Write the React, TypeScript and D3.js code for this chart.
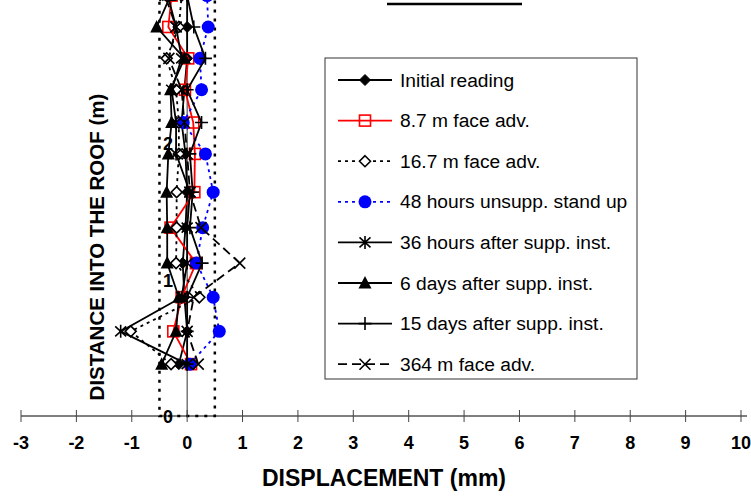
import React from "react";
import * as d3 from "d3";

// Extensometer readings: roof displacement (mm) at each anchor depth (m)
const depths = [0.38, 0.62, 0.87, 1.12, 1.38, 1.64, 1.92, 2.15, 2.39, 2.62, 2.85, 3.08];

const initialReading = [-0.15, 0.0, -0.05, -0.08, -0.03, 0.0, -0.03, -0.1, -0.05, 0.0, 0.0, 0.0];
const faceAdv87 = [0.07, -0.25, -0.1, 0.16, -0.3, 0.13, 0.14, 0.11, -0.04, 0.02, -0.34, -0.28];
const faceAdv167 = [-0.29, -1.02, 0.22, -0.2, -0.19, -0.19, -0.15, -0.15, -0.2, -0.37, -0.15, -0.1];
const hours48 = [0.05, 0.58, 0.47, 0.17, 0.28, 0.47, 0.33, -0.07, 0.26, 0.23, 0.38, 0.36];
const hours36 = [0.0, -1.2, -0.1, 0.0, 0.0, 0.05, -0.2, -0.2, -0.28, -0.1, -0.2, -0.35];
const days6 = [-0.46, -0.2, -0.15, -0.36, -0.36, -0.37, -0.34, -0.28, -0.3, -0.05, -0.55, -0.3];
const days15 = [0.0, 0.0, 0.0, 0.27, 0.05, 0.1, 0.05, 0.26, 0.0, 0.33, 0.12, 0.0];
const faceAdv364 = [0.2, 0.0, 0.12, 0.95, 0.25, 0.05, 0.0, -0.05, -0.1, -0.33, -0.2, -0.4];

// +/-0.5 mm tolerance band
const bandX = [-0.5, -0.5, 0.5, 0.5];
const bandY = [3.1, 0, 0, 3.1];

const xTicks = [-3, -2, -1, 0, 1, 2, 3, 4, 5, 6, 7, 8, 9, 10];
const yTicks = [0, 1, 2];

const seriesNames = [
  "Initial reading",
  "8.7 m face adv.",
  "16.7 m face adv.",
  "48 hours unsupp. stand up",
  "36 hours after supp. inst.",
  "6 days after supp. inst.",
  "15 days after supp. inst.",
  "364 m face adv.",
];
const seriesValues = [initialReading, faceAdv87, faceAdv167, hours48, hours36, days6, days15, faceAdv364];

type Style = { color: string; dash?: string; marker: string };
const styles: Style[] = [
  { color: "#000", marker: "diamond" },
  { color: "#ff0000", marker: "square" },
  { color: "#000", dash: "3,4", marker: "openDiamond" },
  { color: "#0000ff", dash: "3,4", marker: "circle" },
  { color: "#000", marker: "star" },
  { color: "#000", marker: "triangle" },
  { color: "#000", marker: "plus" },
  { color: "#000", dash: "9,5", marker: "cross" },
];

const FONT = "'Liberation Sans', Arial, sans-serif";

function Marker({ kind, x, y, color }: { kind: string; x: number; y: number; color: string }) {
  switch (kind) {
    case "diamond":
      return <path d={`M${x},${y - 5.5}L${x + 5.5},${y}L${x},${y + 5.5}L${x - 5.5},${y}Z`} fill={color} stroke={color} strokeWidth={1} />;
    case "openDiamond":
      return <path d={`M${x},${y - 5.5}L${x + 5.5},${y}L${x},${y + 5.5}L${x - 5.5},${y}Z`} fill="#fff" stroke={color} strokeWidth={1.6} />;
    case "square":
      return <rect x={x - 5.5} y={y - 5.5} width={11} height={11} fill="none" stroke={color} strokeWidth={1.6} />;
    case "circle":
      return <circle cx={x} cy={y} r={6.5} fill={color} />;
    case "triangle":
      return <path d={`M${x},${y - 7}L${x + 6.5},${y + 5.5}L${x - 6.5},${y + 5.5}Z`} fill={color} />;
    case "plus":
      return <path d={`M${x - 6.5},${y}H${x + 6.5}M${x},${y - 6.5}V${y + 6.5}`} stroke={color} strokeWidth={1.6} />;
    case "cross":
      return <path d={`M${x - 5.5},${y - 5.5}L${x + 5.5},${y + 5.5}M${x - 5.5},${y + 5.5}L${x + 5.5},${y - 5.5}`} stroke={color} strokeWidth={1.6} />;
    case "star":
      return (
        <path
          d={`M${x - 5.5},${y - 5}L${x + 5.5},${y + 5}M${x - 5.5},${y + 5}L${x + 5.5},${y - 5}M${x},${y - 6.5}V${y + 6.5}`}
          stroke={color}
          strokeWidth={1.6}
        />
      );
    default:
      return null;
  }
}

export default function App() {
  const W = 751;
  const H = 496;
  const x = d3.scaleLinear().domain([-3, 10]).range([21, 741]);
  const y = d3.scaleLinear().domain([0, 3]).range([416, 6.5]);

  const line = d3
    .line<[number, number]>()
    .x((d) => x(d[0]))
    .y((d) => y(d[1]));

  const bandPts = bandX.map((v, i) => [v, bandY[i]] as [number, number]);

  const legendX = 325;
  const legendY = 58;
  const rowY = (i: number) => 80 + i * 40.6;

  return (
    <svg width={W} height={H} style={{ position: "absolute", left: 0, top: 0, background: "#fff" }} fontFamily={FONT}>
      <rect width={W} height={H} fill="#fff" />

      {/* element cut at the top edge */}
      <line x1={387} x2={522} y1={4} y2={4} stroke="#000" strokeWidth={2.5} />

      {/* y axis at zero displacement */}
      <line x1={x(0)} x2={x(0)} y1={y(0)} y2={0} stroke="#333" strokeWidth={1} />

      {/* tolerance band */}
      <path d={line(bandPts) || ""} fill="none" stroke="#000" strokeWidth={2.5} strokeDasharray="3,6" />

      {/* x axis */}
      <line x1={x(-3)} x2={x(10) + 6} y1={y(0)} y2={y(0)} stroke="#000" strokeWidth={1} />
      {xTicks.map((t) => (
        <g key={t}>
          <line x1={x(t)} x2={x(t)} y1={y(0) - 6} y2={y(0) + 6} stroke="#444" strokeWidth={1} />
          <text x={x(t)} y={y(0) + 33} textAnchor="middle" fontSize={18} fontWeight="bold">
            {t}
          </text>
        </g>
      ))}

      {/* series */}
      {seriesValues.map((vals, si) => {
        const pts = vals.map((v, i) => [v, depths[i]] as [number, number]);
        const st = styles[si];
        return (
          <g key={si}>
            <path
              d={line(pts) || ""}
              fill="none"
              stroke={st.color}
              strokeWidth={1.8}
              strokeDasharray={st.dash}
            />
            {pts.map((p, i) => (
              <Marker key={i} kind={st.marker} x={x(p[0])} y={y(p[1])} color={st.color} />
            ))}
          </g>
        );
      })}

      {/* y tick labels */}
      {yTicks.map((t) => (
        <text key={t} x={173} y={y(t) + 7} textAnchor="end" fontSize={18} fontWeight="bold">
          {t}
        </text>
      ))}

      {/* axis titles */}
      <text x={384} y={486} textAnchor="middle" fontSize={23} fontWeight="bold">
        DISPLACEMENT (mm)
      </text>
      <text
        transform={`translate(104,247) rotate(-90)`}
        textAnchor="middle"
        fontSize={20.5}
        fontWeight="bold"
      >
        DISTANCE INTO THE ROOF (m)
      </text>

      {/* legend */}
      <rect x={legendX} y={legendY} width={312} height={321} fill="#fff" stroke="#333" strokeWidth={1} />
      {seriesNames.map((name, i) => {
        const st = styles[i];
        const ly = rowY(i);
        return (
          <g key={name}>
            <line x1={338} x2={392} y1={ly} y2={ly} stroke={st.color} strokeWidth={1.8} strokeDasharray={st.dash} />
            <Marker kind={st.marker} x={365} y={ly} color={st.color} />
            <text x={400} y={ly + 6.5} fontSize={19.2}>
              {name}
            </text>
          </g>
        );
      })}
    </svg>
  );
}
